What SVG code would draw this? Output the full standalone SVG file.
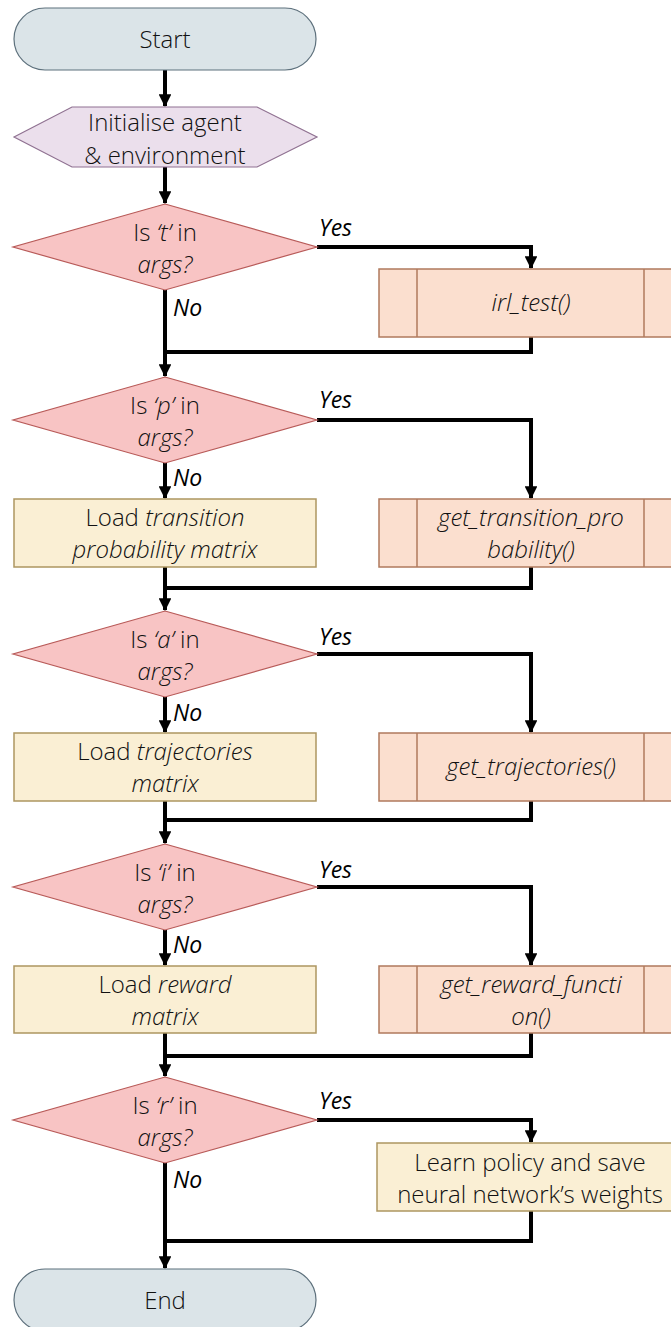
<svg xmlns="http://www.w3.org/2000/svg" width="671" height="1327" viewBox="0 0 671 1327">
  <style>
    text { font-family: "Open Sans", "Noto Sans", "Liberation Sans", sans-serif; font-size: 24px; font-weight: 300; fill: #111; text-anchor: middle; }
    .it { font-style: italic; }
    .lbl { font-size: 23px; font-style: italic; font-weight: 400; text-anchor: start; fill: #000; }
    .term { fill: #dbe4e8; stroke: #5d707c; stroke-width: 1.2; }
    .prep { fill: #ebdfec; stroke: #8f7191; stroke-width: 1.2; }
    .dec { fill: #f8c4c4; stroke: #b85a58; stroke-width: 1.2; }
    .proc { fill: #faefd4; stroke: #ad9660; stroke-width: 1.5; }
    .sub { fill: #fbdfcf; stroke: #b07a5d; stroke-width: 1.5; }
    .wire { fill: none; stroke: #000; stroke-width: 4; }
  </style>
  <defs>
    <marker id="arrow" viewBox="0 0 12 12" refX="11" refY="6" markerWidth="3.2" markerHeight="3.2" markerUnits="strokeWidth" orient="auto">
      <path d="M0,0 L12,6 L0,12 Z" fill="#000"/>
    </marker>
  </defs>

  <!-- connectors -->
  <g id="connectors">
    <path class="wire" d="M165,70 V106" marker-end="url(#arrow)"/>
    <path class="wire" d="M165,167 V203" marker-end="url(#arrow)"/>
    <!-- t -->
    <path class="wire" d="M317,247 H531 V268" marker-end="url(#arrow)"/>
    <path class="wire" d="M165,290 V376" marker-end="url(#arrow)"/>
    <path class="wire" d="M531,337 V352 H165"/>
    <!-- p -->
    <path class="wire" d="M317,420 H531 V498" marker-end="url(#arrow)"/>
    <path class="wire" d="M165,463 V498" marker-end="url(#arrow)"/>
    <path class="wire" d="M165,567 V610" marker-end="url(#arrow)"/>
    <path class="wire" d="M531,567 V588 H165"/>
    <!-- a -->
    <path class="wire" d="M317,654 H531 V732" marker-end="url(#arrow)"/>
    <path class="wire" d="M165,697 V732" marker-end="url(#arrow)"/>
    <path class="wire" d="M165,801 V843" marker-end="url(#arrow)"/>
    <path class="wire" d="M531,801 V820 H165"/>
    <!-- i -->
    <path class="wire" d="M317,887 H531 V965" marker-end="url(#arrow)"/>
    <path class="wire" d="M165,930 V965" marker-end="url(#arrow)"/>
    <path class="wire" d="M165,1033 V1076" marker-end="url(#arrow)"/>
    <path class="wire" d="M531,1033 V1056 H165"/>
    <!-- r -->
    <path class="wire" d="M317,1120 H531 V1142" marker-end="url(#arrow)"/>
    <path class="wire" d="M165,1163 V1268" marker-end="url(#arrow)"/>
    <path class="wire" d="M531,1211 V1241 H165"/>

    <text class="lbl" x="319" y="236">Yes</text>
    <text class="lbl" x="173" y="316">No</text>
    <text class="lbl" x="319" y="408">Yes</text>
    <text class="lbl" x="173" y="486">No</text>
    <text class="lbl" x="319" y="645">Yes</text>
    <text class="lbl" x="173" y="721">No</text>
    <text class="lbl" x="319" y="878">Yes</text>
    <text class="lbl" x="173" y="953">No</text>
    <text class="lbl" x="319" y="1109">Yes</text>
    <text class="lbl" x="173" y="1188">No</text>
  </g>

  <g id="start">
    <rect class="term" x="14" y="8" width="302" height="62" rx="31" ry="31"/>
    <text x="165" y="48">Start</text>
  </g>

  <g id="init">
    <polygon class="prep" points="14,137 72,107 257,107 317,137 257,167 72,167"/>
    <text x="165" y="131">Initialise agent</text>
    <text x="165" y="164">&amp; environment</text>
  </g>

  <g id="check-t">
    <polygon class="dec" points="165,204 317,247 165,290 13,247"/>
    <text x="165" y="241">Is <tspan class="it">‘t’</tspan> in</text>
    <text x="165" y="273" class="it">args?</text>
  </g>
  <g id="irl-test">
    <rect class="sub" x="379" y="269" width="304" height="68"/>
    <line class="sub" x1="417" y1="269" x2="417" y2="337"/>
    <line class="sub" x1="644" y1="269" x2="644" y2="337"/>
    <text x="531" y="311" class="it">irl_test()</text>
  </g>

  <g id="check-p">
    <polygon class="dec" points="165,377 317,420 165,463 13,420"/>
    <text x="165" y="414">Is <tspan class="it">‘p’</tspan> in</text>
    <text x="165" y="446" class="it">args?</text>
  </g>
  <g id="load-transition">
    <rect class="proc" x="14" y="499" width="302" height="68"/>
    <text x="165" y="526">Load <tspan class="it">transition</tspan></text>
    <text x="165" y="558" class="it">probability matrix</text>
  </g>
  <g id="get-transition">
    <rect class="sub" x="379" y="499" width="304" height="68"/>
    <line class="sub" x1="417" y1="499" x2="417" y2="567"/>
    <line class="sub" x1="644" y1="499" x2="644" y2="567"/>
    <text x="531" y="526" class="it">get_transition_pro</text>
    <text x="531" y="558" class="it">bability()</text>
  </g>

  <g id="check-a">
    <polygon class="dec" points="165,611 317,654 165,697 13,654"/>
    <text x="165" y="648">Is <tspan class="it">‘a’</tspan> in</text>
    <text x="165" y="680" class="it">args?</text>
  </g>
  <g id="load-trajectories">
    <rect class="proc" x="14" y="733" width="302" height="68"/>
    <text x="165" y="760">Load <tspan class="it">trajectories</tspan></text>
    <text x="165" y="792" class="it">matrix</text>
  </g>
  <g id="get-trajectories">
    <rect class="sub" x="379" y="733" width="304" height="68"/>
    <line class="sub" x1="417" y1="733" x2="417" y2="801"/>
    <line class="sub" x1="644" y1="733" x2="644" y2="801"/>
    <text x="531" y="775" class="it">get_trajectories()</text>
  </g>

  <g id="check-i">
    <polygon class="dec" points="165,844 317,887 165,930 13,887"/>
    <text x="165" y="881">Is <tspan class="it">‘i’</tspan> in</text>
    <text x="165" y="913" class="it">args?</text>
  </g>
  <g id="load-reward">
    <rect class="proc" x="14" y="966" width="302" height="67"/>
    <text x="165" y="993">Load <tspan class="it">reward</tspan></text>
    <text x="165" y="1025" class="it">matrix</text>
  </g>
  <g id="get-reward">
    <rect class="sub" x="379" y="966" width="304" height="67"/>
    <line class="sub" x1="417" y1="966" x2="417" y2="1033"/>
    <line class="sub" x1="644" y1="966" x2="644" y2="1033"/>
    <text x="531" y="993" class="it">get_reward_functi</text>
    <text x="531" y="1025" class="it">on()</text>
  </g>

  <g id="check-r">
    <polygon class="dec" points="165,1077 317,1120 165,1163 13,1120"/>
    <text x="165" y="1114">Is <tspan class="it">‘r’</tspan> in</text>
    <text x="165" y="1146" class="it">args?</text>
  </g>
  <g id="learn-policy">
    <rect class="proc" x="377" y="1143" width="306" height="68"/>
    <text x="530" y="1171">Learn policy and save</text>
    <text x="530" y="1203">neural network’s weights</text>
  </g>

  <g id="end">
    <rect class="term" x="14" y="1269" width="302" height="62" rx="31" ry="31"/>
    <text x="165" y="1309">End</text>
  </g>
</svg>
